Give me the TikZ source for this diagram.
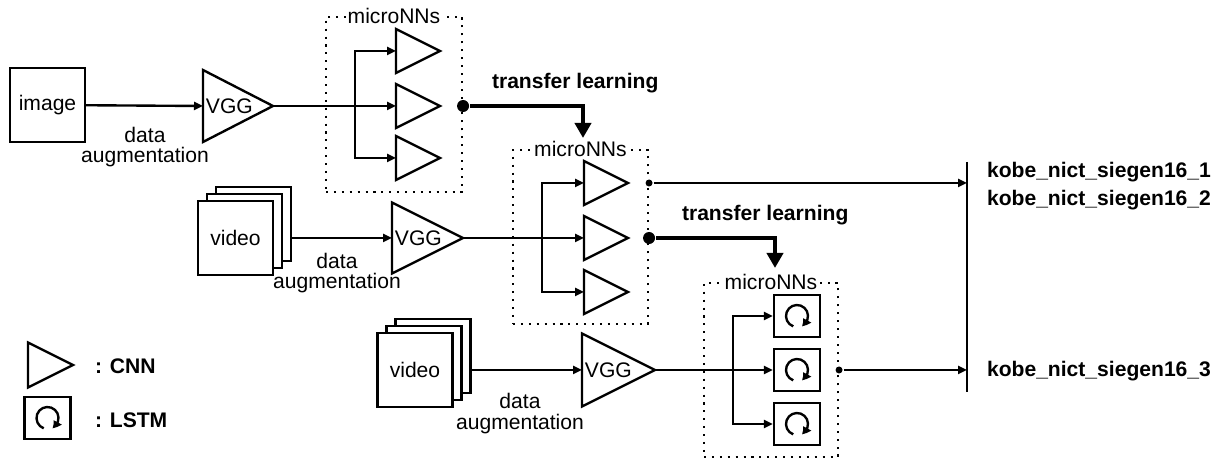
\documentclass[tikz,border=0pt]{standalone}
\usepackage{fontspec}
\setmainfont{Liberation Sans}
\usetikzlibrary{arrows.meta,bending,shapes.geometric,shadows}

\begin{document}
\begin{tikzpicture}[line width = 1.35pt, font = \fontsize{12}{11.5}\selectfont,
  >={Triangle[length = .18cm, width = .16cm]},
  cnn/.style = {draw, isosceles triangle, isosceles triangle stretches, shape border rotate = 0,
    minimum width = .88cm, minimum height = .88cm, inner sep = 0, outer sep = 0, anchor = west},
  vgg/.style = {cnn, minimum width = 1.44cm, minimum height = 1.4cm},
  lstm/.style = {draw, rectangle, minimum width = .92cm, minimum height = .84cm, inner sep = 0,
    path picture = {\draw[-{Triangle[length = .16cm, width = .17cm, bend]}]
      ([shift = {(250:.22)}]path picture bounding box.center) arc[start angle = 250, end angle = -65, radius = .22];}},
  inbox/.style = {draw, rectangle, minimum width = 1.5cm, minimum height = 1.48cm, inner sep = 0, fill = white},
  stack/.style = {inbox, double copy shadow = {shadow xshift = .18cm, shadow yshift = .14cm}},
  nnbox/.style = {draw, rectangle, line width = 1.2pt, dash pattern = on 1.2pt off 3.3pt, inner sep = 0},
  boxlabel/.style = {fill = white, inner sep = 1pt},
  bigdot/.style = {circle, fill, inner sep = 0, minimum size = .24cm},
  smalldot/.style = {circle, fill, inner sep = 0, minimum size = .14cm},
  bold/.style = {anchor = west, font = \fontsize{12}{14}\selectfont\bfseries},
  transfer/.style = {line width = 2.6pt, -{Triangle[length = .3cm, width = .32cm]}}]
\useasboundingbox (0,0) rectangle (24.38,9.24);

% image branch
\node[inbox] (img) at (.95,7.14) {image};
\node[vgg] (vgg1) at (4.06,7.12) {};
\node[anchor = west, inner sep = 1pt] (vgg1t) at (vgg1.west) {VGG};
\draw[->] (img) -- (vgg1.west);
\node[align = center] (aug1) at (2.90,6.30) {data\\augmentation};

\node[nnbox, minimum width = 2.72cm, minimum height = 3.5cm] (box1) at (7.88,7.15) {};
\node[boxlabel] (box1t) at (box1.north) {microNNs};
\node[cnn] (c11) at (7.92,8.22) {};
\node[cnn] (c12) at (7.92,7.12) {};
\node[cnn] (c13) at (7.92,6.08) {};
\coordinate (br1) at (7.10,7.12);
\draw[->] (vgg1.apex) -- (c12.west);
\draw[->] (br1) |- (c11.west);
\draw[->] (br1) |- (c13.west);

% first video branch
\node[stack] (vid1) at (4.71,4.48) {video};
\node[vgg, minimum width = 1.42cm, minimum height = 1.42cm] (vgg2) at (7.84,4.48) {};
\node[anchor = west, inner sep = 1pt] (vgg2t) at (vgg2.west) {VGG};
\draw[->] ([xshift = .36cm]vid1.east) -- (vgg2.west);
\node[align = center] (aug2) at (6.74,3.78) {data\\augmentation};

\node[nnbox, minimum width = 2.70cm, minimum height = 3.48cm] (box2) at (11.61,4.50) {};
\node[boxlabel] (box2t) at (box2.north) {microNNs};
\node[cnn] (c21) at (11.68,5.58) {};
\node[cnn] (c22) at (11.68,4.48) {};
\node[cnn] (c23) at (11.68,3.40) {};
\coordinate (br2) at (10.84,4.48);
\draw[->] (vgg2.apex) -- (c22.west);
\draw[->] (br2) |- (c21.west);
\draw[->] (br2) |- (c23.west);

% second video branch
\node[stack] (vid2) at (8.30,1.84) {video};
\node[vgg, minimum width = 1.46cm, minimum height = 1.46cm] (vgg3) at (11.64,1.84) {};
\node[anchor = west, inner sep = 1pt] (vgg3t) at (vgg3.west) {VGG};
\draw[->] ([xshift = .36cm]vid2.east) -- (vgg3.west);
\node[align = center] (aug3) at (10.40,.97) {data\\augmentation};

\node[nnbox, minimum width = 2.68cm, minimum height = 3.48cm] (box3) at (15.42,1.84) {};
\node[boxlabel] (box3t) at (box3.north) {microNNs};
\node[lstm] (l1) at (15.94,2.92) {};
\node[lstm] (l2) at (15.94,1.84) {};
\node[lstm] (l3) at (15.94,.76) {};
\coordinate (br3) at (14.66,1.84);
\draw[->] (vgg3.apex) -- (l2.west);
\draw[->] (br3) |- (l1.west);
\draw[->] (br3) |- (l3.west);

% transfer learning
\node[bigdot] (tl1) at (box1.east |- c12.west) {};
\coordinate (tl1end) at (11.66,6.48);
\draw[transfer] (tl1) -| (tl1end);
\node[bold] (tl1t) at (9.70,7.58) {transfer learning};

\node[bigdot] (tl2) at (box2.east |- c22.west) {};
\coordinate (tl2end) at (15.50,3.88);
\draw[transfer] (tl2) -| (tl2end);
\node[bold] (tl2t) at (13.50,4.94) {transfer learning};

% outputs
\coordinate (bartop) at (19.34,6.00);
\coordinate (barbot) at (19.34,1.40);
\draw (bartop) -- (barbot);
\node[smalldot] (o1) at (box2.east |- c21.west) {};
\node[smalldot] (o2) at (box3.east |- l2.west) {};
\draw[->] (o1) -- (o1 -| bartop);
\draw[->] (o2) -- (o2 -| bartop);
\node[bold] (r1) at (19.60,5.80) {kobe\_nict\_siegen16\_1};
\node[bold] (r2) at (19.60,5.24) {kobe\_nict\_siegen16\_2};
\node[bold] (r3) at (19.60,1.82) {kobe\_nict\_siegen16\_3};

% legend
\node[cnn, minimum width = .9cm, minimum height = .9cm] (legcnn) at (.56,1.94) {};
\node[bold] (legcnnt) at (1.76,1.92) {: CNN};
\node[lstm] (leglstm) at (.95,.88) {};
\node[bold] (leglstmt) at (1.76,.84) {: LSTM};
\end{tikzpicture}
\end{document}
